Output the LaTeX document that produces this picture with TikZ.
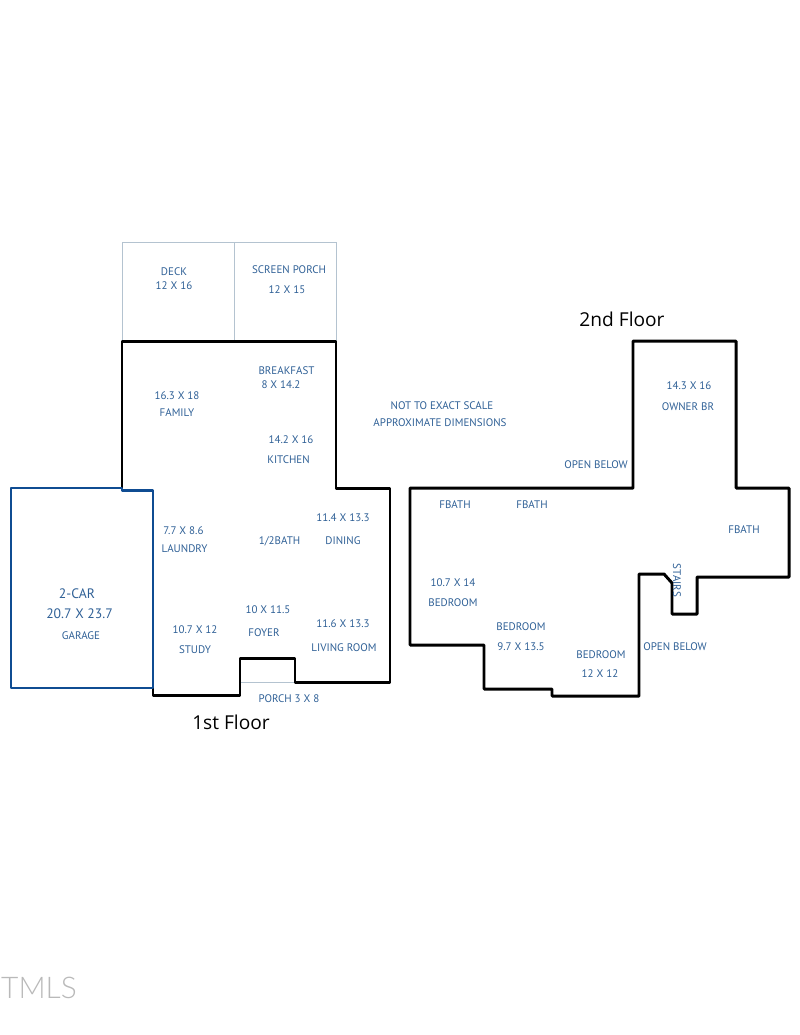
\documentclass[tikz,border=0pt]{standalone}
\usepackage{fontspec}
\setmainfont{Open Sans}
\newfontfamily\roomfont{PT Sans}
\newfontfamily\markfont{Lato Light}
\definecolor{labelblue}{HTML}{2F6096}
\definecolor{garageblue}{HTML}{0F4C92}
\definecolor{deckgray}{HTML}{B4C3D0}
\tikzset{
  wall/.style={black, line width=1.7pt, line join=round},
  garagewall/.style={garageblue, line width=1.55pt, line join=round},
  thinwall/.style={deckgray, line width=0.5pt},
  lbl/.style={labelblue, font=\roomfont\fontsize{6.25}{8}\selectfont, inner sep=0pt, yshift=-0.5pt},
  biglbl/.style={labelblue, font=\roomfont\fontsize{7.8}{10}\selectfont, inner sep=0pt, yshift=-0.5pt},
  floorlbl/.style={black, font=\fontsize{10.9}{12}\selectfont, inner sep=0pt}
}
\begin{document}
\begin{tikzpicture}[x=0.02cm,y=-0.02cm]
  \useasboundingbox (0,0) rectangle (800,1035);
  % deck and screen porch
  \draw[thinwall] (122,341) -- (122,242) -- (336,242) -- (336,341);
  \draw[thinwall] (234.5,242) -- (234.5,341);
  \draw[thinwall] (240,682) -- (295,682);
  % 1st floor
  \draw[wall] (122,488) -- (122,341) -- (336,341) -- (336,488) -- (390,488) -- (390,682.5)
    -- (295,682.5) -- (295,658) -- (240,658) -- (240,695) -- (153,695) -- (153,688);
  \draw[garagewall] (11,488) -- (122,488) -- (122,490.5) -- (153,490.5) -- (153,688) -- (11,688) -- cycle;
  % 2nd floor
  \draw[wall] (410,488) -- (633,488) -- (633,341) -- (736,341) -- (736,488) -- (789,488) -- (789,577)
    -- (697,577) -- (697,614) -- (672,614) -- (672,583) -- (664,574) -- (639,574) -- (639,696)
    -- (552,696) -- (552,689) -- (484,689) -- (484,645) -- (410,645) -- cycle;
  % 1st floor rooms
  \node[lbl] (deck) at (174,271) {DECK};
  \node[lbl] (decksize) at (174,285) {12 X 16};
  \node[lbl] (screen) at (289,269) {SCREEN PORCH};
  \node[lbl] (screensize) at (287,289) {12 X 15};
  \node[lbl] (breakfast) at (286.5,369.5) {BREAKFAST};
  \node[lbl] (breakfastsize) at (281,384) {8 X 14.2};
  \node[lbl] (familysize) at (177,395) {16.3 X 18};
  \node[lbl] (family) at (177,412) {FAMILY};
  \node[lbl] (kitchensize) at (291,439) {14.2 X 16};
  \node[lbl] (kitchen) at (288.5,459) {KITCHEN};
  \node[lbl] (laundrysize) at (183.5,529.5) {7.7 X 8.6};
  \node[lbl] (laundry) at (184.5,548) {LAUNDRY};
  \node[lbl] (halfbath) at (279.5,540) {1/2BATH};
  \node[lbl] (diningsize) at (343,517) {11.4 X 13.3};
  \node[lbl] (dining) at (343,540) {DINING};
  \node[biglbl] (car) at (77,593) {2-CAR};
  \node[biglbl] (garagesize) at (79.5,613) {20.7 X 23.7};
  \node[lbl] (garage) at (81,635) {GARAGE};
  \node[lbl] (studysize) at (195,629) {10.7 X 12};
  \node[lbl] (study) at (195,649) {STUDY};
  \node[lbl] (foyersize) at (268,609) {10 X 11.5};
  \node[lbl] (foyer) at (264,632) {FOYER};
  \node[lbl] (livingsize) at (343,623) {11.6 X 13.3};
  \node[lbl] (living) at (344,647) {LIVING ROOM};
  \node[lbl] (porch) at (289,698) {PORCH 3 X 8};
  \node[floorlbl] (first) at (231,722) {1st Floor};
  % 2nd floor rooms
  \node[floorlbl] (second) at (622,319) {2nd Floor};
  \node[lbl] (notscale) at (442,405) {NOT TO EXACT SCALE};
  \node[lbl] (approx) at (440,422) {APPROXIMATE DIMENSIONS};
  \node[lbl] (ownersize) at (689,385) {14.3 X 16};
  \node[lbl] (owner) at (688,406) {OWNER BR};
  \node[lbl] (openleft) at (596,464) {OPEN BELOW};
  \node[lbl] (fbatha) at (455,503.5) {FBATH};
  \node[lbl] (fbathb) at (532,503.5) {FBATH};
  \node[lbl] (fbathc) at (744,529) {FBATH};
  \node[lbl,rotate=-90] (stairs) at (677,579.5) {STAIRS};
  \node[lbl] (bedasize) at (453,582) {10.7 X 14};
  \node[lbl] (beda) at (453,602) {BEDROOM};
  \node[lbl] (bedb) at (521,626) {BEDROOM};
  \node[lbl] (bedbsize) at (521,646) {9.7 X 13.5};
  \node[lbl] (bedc) at (601,654) {BEDROOM};
  \node[lbl] (bedcsize) at (600,673) {12 X 12};
  \node[lbl] (openright) at (675,646) {OPEN BELOW};
  % watermark
  \node[gray!55, font=\markfont\fontsize{17}{20}\selectfont, inner sep=0pt] (tmls) at (39,988) {TMLS};
\end{tikzpicture}
\end{document}
